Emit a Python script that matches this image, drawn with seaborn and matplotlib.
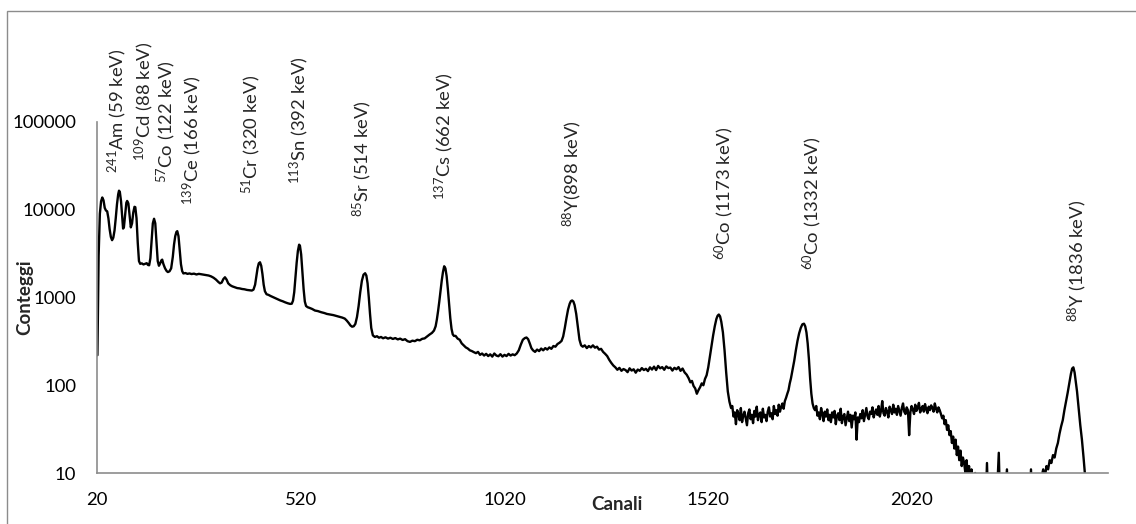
import numpy as np
import pandas as pd
import matplotlib
matplotlib.use("Agg")
import matplotlib.pyplot as plt
import seaborn as sns
from matplotlib.transforms import blended_transform_factory
from matplotlib.patches import Rectangle
from matplotlib.ticker import NullLocator, FixedLocator

# ---------------- data ----------------
# low-energy part: channels 20-900
low_ch = [21, 24, 27, 30, 33, 36, 39, 42, 45, 48, 51, 54, 57, 60, 63, 66, 69, 72, 74, 76, 79, 82, 84, 86, 89, 92, 94, 97, 100, 103, 106, 109, 112, 114, 117, 120, 123, 126, 130, 134, 138, 142, 145, 148, 151, 154, 157, 160, 163, 166, 169, 172, 175, 178, 180, 183, 187, 191, 194, 198, 202, 206, 209, 212, 215, 217, 220, 223, 226, 229, 232, 237, 242, 247, 252, 258, 264, 270, 276, 282, 288, 294, 300, 306, 312, 318, 322, 326, 330, 334, 338, 342, 347, 352, 358, 364, 370, 376, 382, 388, 394, 400, 404, 408, 411, 414, 417, 420, 423, 426, 429, 432, 436, 441, 446, 452, 458, 464, 470, 476, 482, 488, 494, 498, 501, 504, 507, 510, 513, 516, 518, 521, 524, 527, 530, 533, 537, 542, 548, 555, 562, 570, 578, 584, 592, 600, 608, 616, 622, 628, 633, 638, 642, 646, 650, 654, 658, 662, 666, 670, 674, 678, 681, 684, 687, 690, 693, 697, 702, 707, 712, 717, 722, 728, 734, 740, 746, 752, 758, 764, 770, 776, 782, 788, 794, 800, 806, 812, 818, 824, 830, 836, 842, 847, 851, 854, 857, 860, 863, 866, 869, 872, 875, 878, 881, 884, 887, 890, 893, 896]
low_counts = [220, 3000, 9000, 12500, 13800, 12800, 10500, 9800, 9600, 8000, 6000, 4900, 4500, 4800, 5800, 8000, 11500, 15000, 16500, 16000, 12500, 8000, 6100, 6300, 8800, 12000, 12600, 11800, 8500, 6300, 7000, 9300, 10800, 10700, 8000, 4200, 2600, 2420, 2450, 2380, 2420, 2460, 2350, 2330, 2800, 4500, 7000, 7900, 7000, 4300, 2600, 2300, 2450, 2650, 2700, 2400, 2150, 2000, 1950, 1990, 2150, 2900, 4000, 5000, 5600, 5700, 5000, 3500, 2400, 2000, 1880, 1900, 1860, 1880, 1850, 1870, 1830, 1860, 1840, 1820, 1800, 1780, 1740, 1680, 1600, 1500, 1450, 1480, 1620, 1700, 1600, 1450, 1380, 1340, 1310, 1280, 1270, 1250, 1240, 1220, 1210, 1200, 1230, 1400, 1750, 2150, 2450, 2520, 2300, 1850, 1400, 1180, 1090, 1070, 1040, 1010, 980, 950, 925, 905, 880, 860, 845, 850, 920, 1150, 1700, 2500, 3400, 4000, 3900, 3100, 2000, 1250, 900, 800, 775, 760, 740, 710, 700, 680, 665, 650, 640, 630, 615, 600, 590, 575, 545, 510, 480, 465, 470, 500, 600, 800, 1150, 1550, 1820, 1890, 1780, 1450, 1000, 650, 450, 370, 355, 362, 348, 355, 343, 352, 340, 348, 337, 345, 333, 340, 328, 335, 318, 312, 322, 318, 330, 325, 338, 342, 360, 378, 395, 420, 470, 560, 700, 900, 1200, 1560, 1950, 2270, 2150, 1750, 1250, 850, 580, 440, 380, 365]

# middle part: channels 900-1580 (88Y 898 keV, 60Co 1173 keV)
mid_ch = [900, 905, 910, 915, 920, 925, 930, 935, 940, 945, 950, 955, 960, 965, 970, 975, 980, 985, 990, 995, 1000, 1005, 1010, 1015, 1020, 1025, 1030, 1035, 1040, 1045, 1050, 1055, 1060, 1065, 1070, 1074, 1078, 1082, 1086, 1090, 1095, 1100, 1105, 1110, 1115, 1120, 1125, 1130, 1135, 1140, 1145, 1150, 1155, 1160, 1164, 1168, 1172, 1176, 1180, 1183, 1186, 1189, 1192, 1196, 1200, 1204, 1208, 1212, 1217, 1222, 1227, 1232, 1237, 1242, 1247, 1252, 1257, 1262, 1267, 1272, 1277, 1282, 1287, 1292, 1297, 1302, 1307, 1312, 1317, 1322, 1327, 1332, 1337, 1342, 1347, 1352, 1357, 1362, 1367, 1372, 1377, 1382, 1387, 1392, 1397, 1402, 1407, 1412, 1417, 1422, 1427, 1432, 1437, 1442, 1447, 1452, 1457, 1462, 1467, 1472, 1476, 1480, 1484, 1488, 1492, 1496, 1500, 1504, 1508, 1512, 1516, 1520, 1524, 1528, 1532, 1536, 1540, 1543, 1546, 1549, 1552, 1556, 1560, 1564, 1568, 1572, 1576]
mid_counts = [365, 340, 330, 300, 285, 270, 262, 250, 245, 238, 232, 240, 222, 230, 218, 228, 215, 225, 212, 230, 218, 214, 226, 212, 222, 215, 228, 218, 225, 220, 230, 250, 290, 330, 345, 350, 335, 300, 265, 250, 240, 255, 245, 262, 250, 265, 255, 270, 260, 280, 275, 295, 305, 320, 360, 450, 580, 730, 850, 910, 925, 900, 820, 650, 460, 330, 285, 275, 285, 265, 280, 270, 285, 268, 275, 255, 260, 240, 228, 215, 195, 180, 168, 160, 150, 158, 146, 153, 149, 141, 156, 147, 152, 139, 151, 146, 157, 149, 154, 145, 160, 151, 163, 149, 166, 156, 161, 150, 164, 157, 159, 147, 158, 152, 161, 146, 155, 140, 132, 120, 108, 112, 98, 92, 80, 88, 95, 105, 100, 118, 130, 160, 210, 280, 370, 470, 570, 620, 640, 610, 530, 400, 250, 140, 85, 65, 55]

# high part: channels 1579-1780 (60Co 1332 keV)
co_ch = [1579, 1582, 1585, 1588, 1591, 1594, 1597, 1600, 1603, 1606, 1609, 1612, 1615, 1618, 1621, 1624, 1627, 1630, 1633, 1636, 1639, 1642, 1645, 1648, 1651, 1654, 1657, 1660, 1663, 1666, 1669, 1672, 1675, 1678, 1681, 1684, 1687, 1690, 1693, 1696, 1699, 1702, 1705, 1708, 1711, 1714, 1717, 1720, 1723, 1727, 1731, 1735, 1739, 1743, 1747, 1751, 1755, 1758, 1761, 1764, 1767, 1770, 1773, 1776, 1779]
co_counts = [58, 44, 49, 36, 52, 47, 40, 55, 38, 45, 50, 42, 35, 48, 53, 41, 46, 37, 51, 44, 57, 40, 47, 49, 38, 54, 43, 46, 39, 50, 56, 44, 48, 41, 58, 47, 52, 45, 60, 50, 57, 62, 54, 66, 72, 80, 88, 105, 120, 150, 190, 250, 320, 390, 450, 495, 503, 470, 400, 300, 200, 120, 80, 62, 55]

# compton plateau and edge: channels 1782-2190
edge_ch = [1782, 1785, 1788, 1791, 1794, 1797, 1800, 1803, 1806, 1809, 1812, 1815, 1818, 1821, 1824, 1827, 1830, 1833, 1836, 1839, 1842, 1845, 1848, 1851, 1854, 1857, 1860, 1863, 1866, 1869, 1872, 1875, 1878, 1881, 1884, 1887, 1890, 1893, 1896, 1899, 1902, 1905, 1908, 1911, 1914, 1917, 1920, 1923, 1926, 1929, 1932, 1935, 1938, 1941, 1944, 1947, 1950, 1953, 1956, 1959, 1962, 1965, 1968, 1971, 1974, 1977, 1980, 1983, 1986, 1989, 1992, 1995, 1998, 2001, 2004, 2007, 2010, 2013, 2016, 2019, 2022, 2025, 2028, 2031, 2034, 2037, 2040, 2043, 2046, 2049, 2052, 2055, 2058, 2061, 2064, 2067, 2070, 2073, 2076, 2079, 2082, 2085, 2088, 2091, 2094, 2097, 2100, 2103, 2106, 2109, 2112, 2115, 2118, 2121, 2124, 2127, 2130, 2133, 2136, 2139, 2142, 2145, 2148, 2151, 2154, 2157, 2160, 2163, 2166, 2169, 2172, 2175, 2178, 2181, 2184, 2187, 2190]
edge_counts = [52, 58, 45, 49, 41, 55, 47, 39, 50, 44,
               53, 40, 46, 38, 49, 43, 51, 36, 45, 48,
               40, 54, 37, 44, 47, 35, 42, 50, 39, 46,
               33, 45, 41, 49, 24, 43, 38, 47, 42, 52,
               39, 46, 55, 44, 41, 50, 47, 56, 43, 49,
               53, 46, 58, 44, 51, 66, 48, 45, 55, 50,
               43, 57, 52, 47, 60, 49, 54, 46, 58, 51,
               45, 55, 62, 50, 47, 56, 52, 27, 49, 58,
               53, 47, 60, 51, 55, 63, 49, 54, 58, 50,
               61, 53, 48, 57, 52, 59, 55, 50, 62, 54,
               49, 56, 52,
               47, 42, 45, 36, 40, 31, 35, 27, 30, 22,
               26, 19, 24, 16, 20, 14, 18, 12, 15, 13,
               10, 14, 9, 12, 7, 11, 8, 5, 10, 4,
               9, 4, 7, 4]

# tail and 88Y 1836 keV peak: channels 2195-2500
y88_ch = [2195, 2200, 2204, 2208, 2215, 2222, 2226, 2233, 2237, 2245, 2253, 2257, 2265, 2280, 2295, 2308, 2312, 2316, 2325, 2332, 2338, 2342, 2346, 2350, 2354, 2358, 2362, 2366, 2370, 2374, 2378, 2382, 2386, 2390, 2394, 2398, 2402, 2406, 2410, 2413, 2416, 2419, 2422, 2425, 2429, 2433, 2437, 2441, 2445, 2450, 2460, 2480, 2500]
y88_counts = [3, 3, 13, 3, 3, 8, 3, 17, 3, 3, 11, 3, 3, 3, 3, 3, 11, 3, 3, 5, 9, 11, 9, 12, 11, 14, 13, 16, 15, 19, 22, 28, 34, 40, 52, 65, 82, 105, 135, 155, 160, 140, 110, 85, 55, 35, 24, 15, 9, 5, 3, 3, 3]

# peak labels
label_texts = [r"$\mathregular{^{241}}$Am (59 keV)", r"$\mathregular{^{109}}$Cd (88 keV)",
               r"$\mathregular{^{57}}$Co (122 keV)", r"$\mathregular{^{139}}$Ce (166 keV)",
               r"$\mathregular{^{51}}$Cr (320 keV)", r"$\mathregular{^{113}}$Sn (392 keV)",
               r"$\mathregular{^{85}}$Sr (514 keV)", r"$\mathregular{^{137}}$Cs (662 keV)",
               r"$\mathregular{^{88}}$Y(898 keV)", r"$\mathregular{^{60}}$Co (1173 keV)",
               r"$\mathregular{^{60}}$Co (1332 keV)", r"$\mathregular{^{88}}$Y (1836 keV)"]
label_channels = [69, 135, 189, 253, 398, 516, 670, 872, 1186, 1559, 1775, 2425]

x_ticks = [20, 520, 1020, 1520, 2020]
y_ticks = [10, 100, 1000, 10000, 100000]
y_ticklabels = ["10", "100", "1000", "10000", "100000"]

# ---------------- layout ----------------
W, H = 1136, 524
label_bottom_px = [173, 161, 183, 205, 194, 184, 217, 200, 227, 260, 270, 322]

df = pd.DataFrame({
    "Canali": np.concatenate([low_ch, mid_ch, co_ch, edge_ch, y88_ch]),
    "Conteggi": np.concatenate([low_counts, mid_counts, co_counts, edge_counts, y88_counts]),
})

sns.set_theme(style="white")
plt.rcParams["font.family"] = ["Lato", "DejaVu Sans"]
plt.rcParams["mathtext.fontset"] = "custom"
plt.rcParams["mathtext.rm"] = "Lato"
plt.rcParams["mathtext.it"] = "Lato:italic"
plt.rcParams["mathtext.bf"] = "Lato:bold"

fig = plt.figure(figsize=(W / 100, H / 100), dpi=100)
ax = fig.add_axes([97 / W, 1 - 473 / H, (1108 - 97) / W, (473 - 122) / H])

sns.lineplot(data=df, x="Canali", y="Conteggi", ax=ax, color="black",
             linewidth=1.7, estimator=None, sort=False)

ax.set_yscale("log")
ax.set_ylim(10, 100000)
ax.set_xlim(20, 2501)
ax.yaxis.set_major_locator(FixedLocator(y_ticks))
ax.yaxis.set_minor_locator(NullLocator())
ax.set_yticklabels(y_ticklabels)
ax.set_xticks(x_ticks)
ax.set_xticklabels([str(t) for t in x_ticks])
ax.tick_params(axis="both", length=0, labelsize=13.3, colors="black")
ax.tick_params(axis="y", pad=15)
ax.tick_params(axis="x", pad=14)
ax.set_xlabel("")
ax.set_ylabel("")

for side in ["top", "right"]:
    ax.spines[side].set_visible(False)
for side in ["left", "bottom"]:
    ax.spines[side].set_color("#8c8c8c")
    ax.spines[side].set_linewidth(1.2)

fig.text(617 / W, 1 - 505 / H, "Canali", ha="center", va="center",
         fontsize=13.5, fontweight="bold")
fig.text(25 / W, 1 - 297 / H, "Conteggi", ha="center", va="center",
         rotation=90, fontsize=13.5, fontweight="bold")

trans = blended_transform_factory(ax.transData, fig.transFigure)
for txt, ch, yb in zip(label_texts, label_channels, label_bottom_px):
    ax.text(ch, 1 - yb / H, txt, transform=trans, rotation=90, ha="center",
            va="bottom", fontsize=13.3, clip_on=False)

# outer chart border (cut at right and bottom as in the reference)
fig.add_artist(Rectangle((7 / W, -0.5), 2, (1 - 11 / H) + 0.5,
                         transform=fig.transFigure, fill=False,
                         edgecolor="#8c8c8c", linewidth=1.0))

fig.savefig("out.png", dpi=100)
